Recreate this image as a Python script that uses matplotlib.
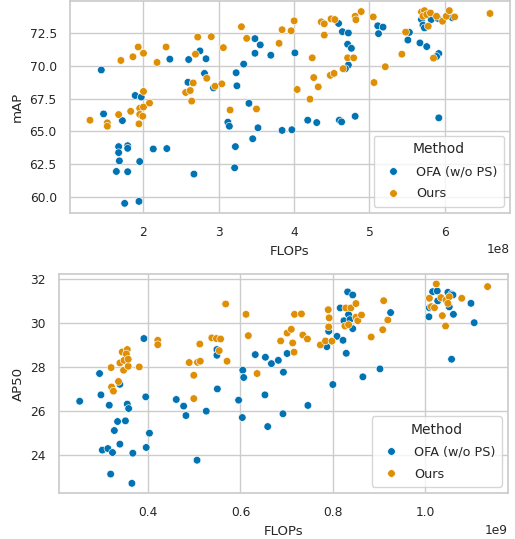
import matplotlib
matplotlib.use("Agg")
import matplotlib.pyplot as plt
import seaborn as sns
import pandas as pd

# ---- Top panel: mAP vs FLOPs (x in units of 1e8) ----
top_ofa_flops = [1.44, 1.47, 1.89, 1.97, 1.72, 1.67, 1.67, 1.68, 1.64, 1.79, 1.79, 1.79, 1.95, 1.75, 1.94,
                 2.13, 2.31, 2.35, 2.60, 2.75, 2.83, 2.59, 2.81, 2.93, 2.67, 3.23, 3.24, 3.33, 3.48, 3.48,
                 3.55, 3.12, 3.14, 3.40, 3.52, 3.45, 3.22, 3.21, 3.69, 4.01, 3.84, 3.97, 4.18, 4.30, 4.60,
                 4.63, 4.81, 4.59, 4.64, 4.72, 4.71, 4.76, 4.72, 4.68, 5.11, 5.18, 5.12, 5.53, 5.51, 5.67,
                 5.76, 5.92, 5.89, 5.92, 5.69, 5.71, 5.73, 5.82, 5.91, 6.10]
top_ofa_map = [69.70, 66.34, 67.75, 67.63, 65.83, 63.84, 63.38, 62.75, 61.94, 63.91, 63.71, 61.92, 62.70, 59.50, 59.65,
               63.66, 63.69, 70.53, 70.50, 71.16, 70.56, 68.76, 69.44, 68.33, 61.74, 69.49, 68.49, 70.15, 72.10, 70.98,
               71.62, 65.71, 65.40, 67.15, 65.28, 64.44, 63.84, 62.22, 70.83, 71.01, 65.08, 65.13, 65.86, 65.68, 65.86,
               65.73, 66.16, 73.26, 72.63, 72.53, 71.67, 71.36, 70.08, 69.80, 73.08, 72.98, 72.48, 72.58, 71.99, 71.77,
               71.49, 70.96, 70.73, 66.04, 73.56, 73.13, 72.92, 73.56, 73.64, 73.70]
top_ours_flops = [1.29, 1.52, 1.52, 1.67, 1.70, 1.86, 1.93, 2.00, 1.83, 1.95, 1.95, 1.94, 1.99, 2.00, 2.00,
                  2.08, 2.18, 2.30, 2.72, 2.90, 2.69, 2.84, 2.95, 2.56, 2.62, 2.66, 2.64, 3.06, 3.04, 3.15,
                  3.30, 3.37, 3.50, 3.80, 3.84, 3.96, 4.00, 4.04, 4.21, 4.24, 4.26, 4.32, 4.36, 4.40, 4.40,
                  4.49, 4.54, 4.48, 4.53, 4.65, 4.71, 4.79, 4.81, 4.82, 4.89, 5.05, 5.06, 5.21, 5.43, 5.48,
                  5.85, 5.78, 5.69, 5.73, 5.71, 5.76, 5.81, 5.89, 5.97, 6.02, 6.06, 6.13, 6.60]
top_ours_map = [65.86, 65.66, 65.40, 66.29, 70.43, 70.71, 71.46, 70.98, 66.54, 66.77, 66.31, 65.58, 66.16, 66.87, 68.06,
                67.17, 70.28, 71.46, 72.22, 72.25, 70.91, 69.07, 68.46, 67.98, 68.13, 68.71, 67.32, 71.41, 68.64, 66.64,
                73.01, 72.12, 66.72, 71.74, 72.78, 72.70, 73.46, 68.21, 67.47, 70.63, 69.12, 68.41, 73.38, 73.23, 72.37,
                73.61, 73.56, 69.29, 69.44, 69.80, 70.63, 70.63, 73.81, 73.54, 74.17, 73.76, 68.74, 69.95, 70.91, 72.60,
                70.61, 73.05, 74.14, 74.24, 73.81, 73.94, 74.06, 73.81, 73.43, 73.81, 74.24, 73.76, 74.02]

# ---- Bottom panel: AP50 vs FLOPs (x in units of 1e9) ----
bot_ofa_flops = [0.252, 0.295, 0.298, 0.316, 0.301, 0.313, 0.323, 0.319, 0.327, 0.334, 0.339, 0.351, 0.355, 0.358,
                 0.367, 0.365, 0.339, 0.391, 0.395, 0.396, 0.403, 0.461, 0.477, 0.482, 0.526, 0.506, 0.549, 0.549,
                 0.550, 0.596, 0.604, 0.605, 0.607, 0.632, 0.654, 0.667, 0.682, 0.701, 0.693, 0.653, 0.659, 0.692,
                 0.746, 0.800, 0.865, 0.902, 0.787, 0.791, 0.809, 0.822, 0.829, 0.816, 0.832, 0.843, 0.834, 0.824,
                 0.837, 0.843, 0.925, 1.008, 1.009, 1.016, 1.026, 1.027, 1.049, 1.057, 1.060, 1.052, 1.061, 1.057,
                 1.099, 1.106]
bot_ofa_ap50 = [26.43, 27.69, 26.72, 26.25, 24.21, 24.28, 24.10, 23.12, 25.10, 25.51, 24.48, 25.54, 26.30, 26.10,
                24.07, 22.70, 27.20, 29.28, 26.63, 24.33, 24.98, 26.51, 26.21, 25.78, 25.98, 23.75, 28.78, 28.52,
                26.99, 26.48, 25.69, 27.84, 27.51, 28.55, 28.43, 28.14, 28.29, 28.60, 27.75, 26.72, 25.28, 25.86,
                26.24, 27.19, 27.54, 27.90, 28.91, 29.61, 29.38, 29.20, 28.61, 30.67, 31.40, 31.26, 30.37, 30.09,
                30.14, 29.73, 30.46, 30.27, 30.68, 31.41, 31.44, 30.99, 31.38, 31.30, 31.26, 30.72, 30.38, 28.34,
                30.88, 30.00]
bot_ours_flops = [0.320, 0.321, 0.325, 0.336, 0.339, 0.344, 0.347, 0.348, 0.355, 0.353, 0.357, 0.357, 0.381, 0.421,
                  0.421, 0.489, 0.499, 0.499, 0.507, 0.512, 0.513, 0.538, 0.548, 0.557, 0.554, 0.571, 0.568, 0.612,
                  0.617, 0.636, 0.687, 0.701, 0.710, 0.713, 0.716, 0.717, 0.732, 0.735, 0.745, 0.773, 0.784, 0.798,
                  0.791, 0.792, 0.790, 0.828, 0.839, 0.826, 0.834, 0.850, 0.850, 0.854, 0.862, 0.883, 0.908, 0.910,
                  0.919, 1.009, 1.013, 1.020, 1.024, 1.034, 1.037, 1.044, 1.045, 1.052, 1.049, 1.079, 1.135]
bot_ours_ap50 = [27.96, 27.08, 26.89, 27.33, 28.17, 28.67, 27.84, 28.29, 28.78, 28.58, 28.02, 28.34, 27.99, 29.20,
                 29.00, 28.19, 27.61, 26.55, 28.20, 29.03, 28.25, 29.31, 29.28, 29.26, 28.73, 28.25, 30.85, 30.38,
                 29.41, 27.69, 29.17, 29.53, 29.70, 29.08, 28.66, 30.38, 30.40, 29.44, 29.26, 28.99, 29.17, 29.16,
                 29.81, 30.22, 30.59, 30.67, 30.67, 29.85, 29.91, 30.87, 30.25, 30.09, 30.35, 29.35, 29.68, 31.00,
                 30.12, 31.11, 30.73, 30.68, 31.76, 31.14, 30.32, 29.85, 31.03, 31.18, 30.88, 31.11, 31.64]

methods = ["OFA (w/o PS)", "Ours"]

sns.set_theme(style="whitegrid", palette="colorblind", font_scale=0.8)
plt.rcParams["font.family"] = ["DejaVu Sans"]

df_top = pd.DataFrame({
    "FLOPs": [v * 1e8 for v in top_ofa_flops + top_ours_flops],
    "mAP": top_ofa_map + top_ours_map,
    "Method": [methods[0]] * len(top_ofa_flops) + [methods[1]] * len(top_ours_flops),
})
df_bot = pd.DataFrame({
    "FLOPs": [v * 1e9 for v in bot_ofa_flops + bot_ours_flops],
    "AP50": bot_ofa_ap50 + bot_ours_ap50,
    "Method": [methods[0]] * len(bot_ofa_flops) + [methods[1]] * len(bot_ours_flops),
})

fig = plt.figure(figsize=(5.15, 5.39), dpi=100)
ax1 = fig.add_axes([70 / 515, 1 - 213 / 539, 440 / 515, 212 / 539])
ax2 = fig.add_axes([59.3 / 515, 1 - 493.3 / 539, 448.7 / 515, 219.3 / 539])

sns.scatterplot(data=df_top, x="FLOPs", y="mAP", hue="Method", hue_order=methods, ax=ax1, s=30)
sns.scatterplot(data=df_bot, x="FLOPs", y="AP50", hue="Method", hue_order=methods, ax=ax2, s=30)

for ax in (ax1, ax2):
    ax.legend(title="Method", loc="lower right", fontsize=9.2, title_fontsize=10,
              labelspacing=0.7, borderpad=0.5)

fig.savefig("out.png", dpi=100)
